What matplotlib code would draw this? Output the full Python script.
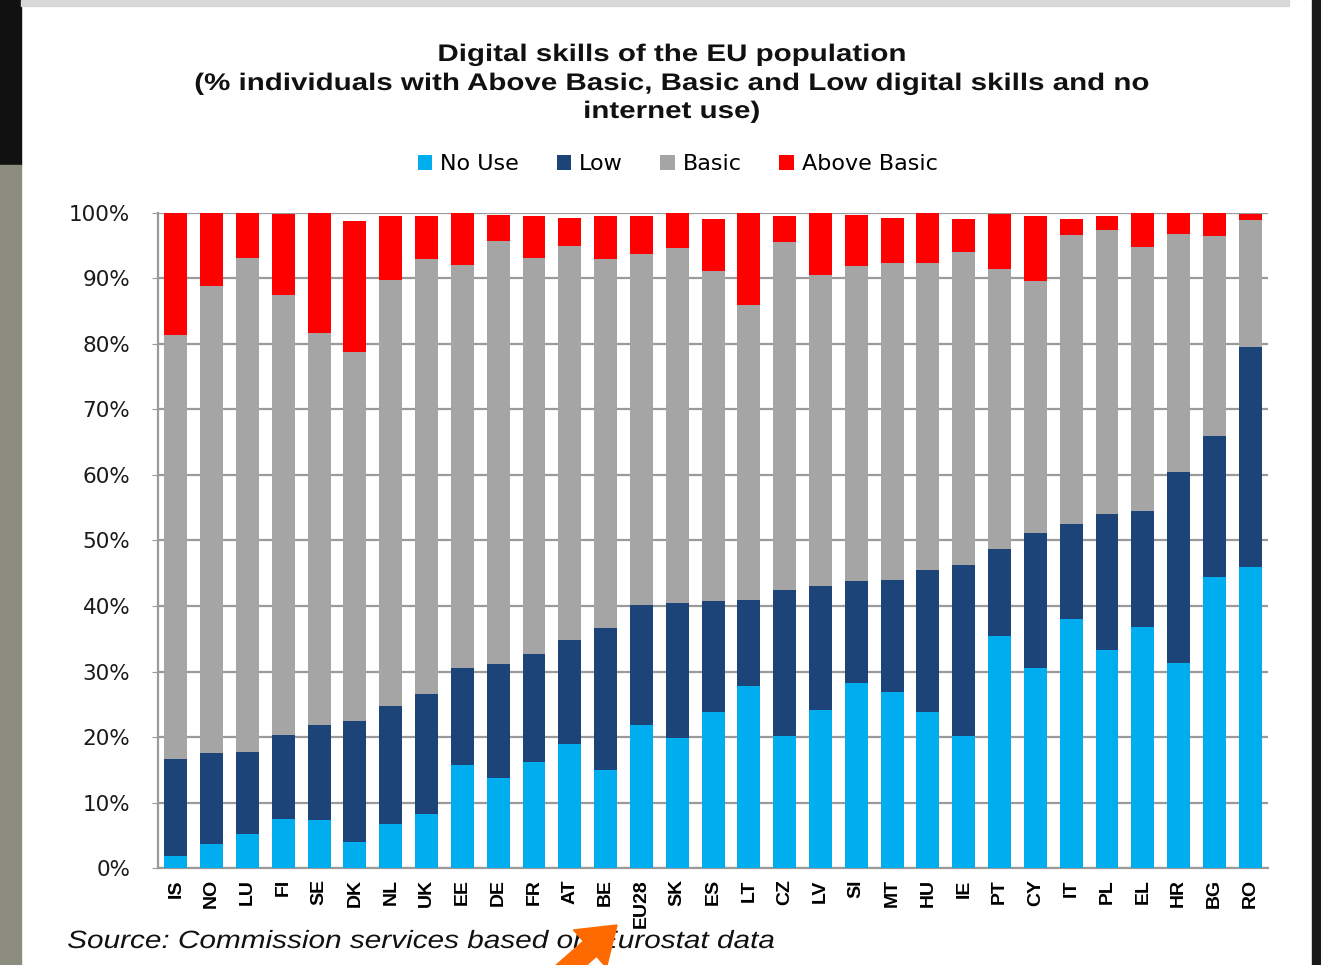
import numpy as np
import matplotlib.pyplot as plt
from matplotlib.patches import Rectangle, FancyArrow, PathPatch
from matplotlib.textpath import TextPath
from matplotlib.font_manager import FontProperties
from matplotlib.transforms import Affine2D

countries = ['IS', 'NO', 'LU', 'FI', 'SE', 'DK', 'NL', 'UK', 'EE', 'DE', 'FR', 'AT',
             'BE', 'EU28', 'SK', 'ES', 'LT', 'CZ', 'LV', 'SI', 'MT', 'HU', 'IE', 'PT',
             'CY', 'IT', 'PL', 'EL', 'HR', 'BG', 'RO']

# cumulative tops (%)
no_use_top = [1.8, 3.6, 5.2, 7.5, 7.4, 4.0, 6.7, 8.3, 15.7, 13.7, 16.2, 18.9,
              15.0, 21.9, 19.9, 23.8, 27.8, 20.2, 24.1, 28.3, 26.8, 23.8, 20.2, 35.4,
              30.6, 38.0, 33.3, 36.8, 31.3, 44.5, 46.0]
low_top = [16.7, 17.5, 17.7, 20.3, 21.9, 22.5, 24.8, 26.6, 30.5, 31.1, 32.6, 34.8,
           36.7, 40.1, 40.4, 40.7, 40.9, 42.5, 43.0, 43.8, 44.0, 45.5, 46.2, 48.7,
           51.2, 52.5, 54.0, 54.5, 60.5, 65.9, 79.5]
basic_top = [81.3, 88.9, 93.1, 87.5, 81.7, 78.7, 89.7, 92.9, 92.1, 95.7, 93.2, 94.9,
             93.0, 93.8, 94.7, 91.1, 85.9, 95.5, 90.6, 91.9, 92.3, 92.3, 94.0, 91.5,
             89.6, 96.6, 97.4, 94.8, 96.8, 96.5, 98.9]
above_top = [100, 100, 100, 99.9, 100, 98.7, 99.6, 99.5, 100, 99.7, 99.6, 99.3,
             99.6, 99.5, 100, 99.1, 100, 99.5, 100, 99.7, 99.3, 100, 99.1, 99.8,
             99.6, 99.1, 99.5, 100, 100, 100, 99.8]

title_lines = ['Digital skills of the EU population',
               '(% individuals with Above Basic, Basic and Low digital skills and no',
               'internet use)']
source = 'Source: Commission services based on Eurostat data'

no_use = np.array(no_use_top)
low = np.array(low_top) - no_use
basic = np.array(basic_top) - np.array(low_top)
above = np.array(above_top) - np.array(basic_top)

W, H = 1321, 965
fig = plt.figure(figsize=(W / 100, H / 100), dpi=100)
fig.patch.set_facecolor('white')


def wide_text(s, x, y, size_px, sx, ha='center', **font):
    # text drawn as a path, stretched sideways like the screenshot
    prop = FontProperties(family='Liberation Sans', **font)
    tp = TextPath((0, 0), s, size=size_px, prop=prop)
    bb = tp.get_extents()
    x0 = -(bb.x0 + bb.x1) / 2 if ha == 'center' else -bb.x0
    tr = Affine2D().translate(x0, 0).scale(sx, 1).translate(x, H - y)
    fig.add_artist(PathPatch(tp, transform=tr, facecolor='#111111', edgecolor='none'))


# screenshot frame
fig.add_artist(Rectangle((0, 0.829), 0.016, 0.171, transform=fig.transFigure, color='#111111', zorder=0))
fig.add_artist(Rectangle((0, 0), 0.016, 0.829, transform=fig.transFigure, color='#8c8c80', zorder=0))
fig.add_artist(Rectangle((0.993, 0), 0.007, 1, transform=fig.transFigure, color='#1a1a1a', zorder=0))
fig.add_artist(Rectangle((0.016, 0.994), 0.96, 0.006, transform=fig.transFigure, color='#d8d8d8', zorder=0))

ax = fig.add_axes([0.1196, 0.1005, 0.8404, 0.6788])
x = np.arange(len(countries))
w = 0.64
ax.bar(x, no_use, w, color='#00AEEF', label='No Use', zorder=3)
ax.bar(x, low, w, bottom=no_use, color='#1C4478', label='Low', zorder=3)
ax.bar(x, basic, w, bottom=np.array(low_top), color='#A5A5A5', label='Basic', zorder=3)
ax.bar(x, above, w, bottom=np.array(basic_top), color='#FF0000', label='Above Basic', zorder=3)

ax.set_xlim(-0.5, len(countries) - 0.5)
ax.set_ylim(0, 100)
ax.set_yticks(np.arange(0, 101, 10))
ax.set_yticklabels([f'{v}%' for v in range(0, 101, 10)], fontsize=15.5, color='#1a1a1a',
                   family='DejaVu Sans')
ax.set_xticks(x)
ax.set_xticklabels(countries, rotation=90, fontsize=14, fontweight='bold', family='Liberation Sans')
ax.grid(axis='y', color='#9a9a9a', linewidth=1.6, zorder=0)
for s in ['top', 'right']:
    ax.spines[s].set_visible(False)
for s in ['left', 'bottom']:
    ax.spines[s].set_color('#9a9a9a')
    ax.spines[s].set_linewidth(1.6)
ax.tick_params(axis='x', length=0, pad=8)
ax.tick_params(axis='y', length=4, color='#9a9a9a', pad=16)

for line, base in zip(title_lines, [61, 90, 118]):
    wide_text(line, 672, base, 24, 1.23, weight='bold')

fig.legend(loc='center', bbox_to_anchor=(0.513, 0.83), ncol=4, frameon=False, fontsize=16,
           handlelength=0.65, handleheight=0.65, handletextpad=0.35, columnspacing=1.7)

wide_text(source, 68, 948, 25, 1.19, ha='left', style='italic')

# orange arrow drawn on the screenshot
fig.add_artist(FancyArrow(560, H - 975, 57, 50, width=20, head_width=50, head_length=36,
                          transform=Affine2D(), color='#FF6A00', length_includes_head=True))

fig.savefig('out.png', dpi=100)
